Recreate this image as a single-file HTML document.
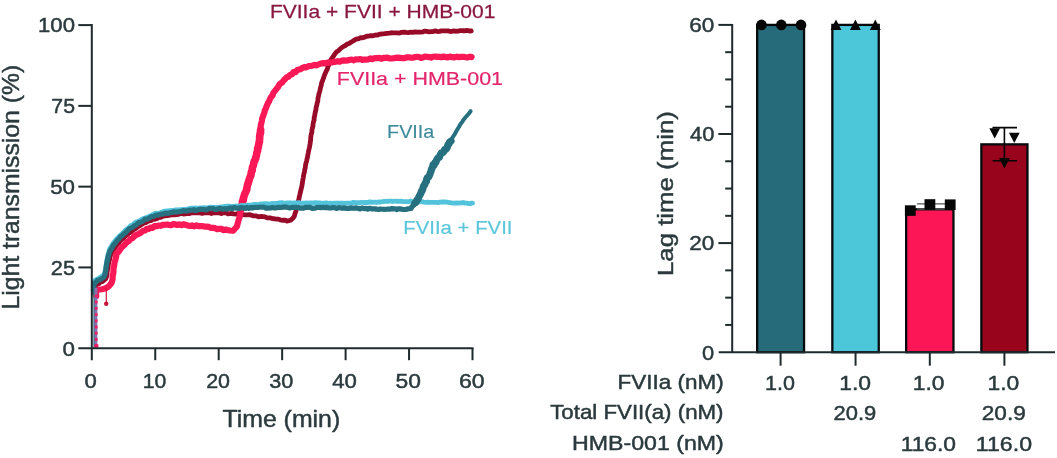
<!DOCTYPE html>
<html><head><meta charset="utf-8"><title>Figure</title>
<style>html,body{margin:0;padding:0;background:#fff;}svg{display:block;}</style></head>
<body>
<svg width="1057" height="458" viewBox="0 0 1057 458" font-family='"Liberation Sans", sans-serif'>
<rect width="1057" height="458" fill="#fff"/>
<defs><filter id="soft" x="0" y="0" width="100%" height="100%" filterUnits="userSpaceOnUse" color-interpolation-filters="sRGB"><feGaussianBlur stdDeviation="0.45"/></filter></defs>
<g filter="url(#soft)">
<g fill="none" stroke-linejoin="round" stroke-linecap="round">
<path d="M94.80,294.00 L94.87,291.71 L94.84,289.42 L94.72,287.51 L95.31,285.73 L96.80,284.22 L98.77,283.73 L100.41,282.01 L102.35,281.65 L105.53,278.90 L106.52,276.73 L107.04,274.39 L107.04,272.48 L107.35,271.19 L107.58,268.75 L108.16,266.17 L108.53,263.74 L108.81,261.53 L109.59,259.34 L110.01,257.20 L110.68,254.90 L111.90,252.68 L112.88,250.42 L114.41,248.58 L115.68,246.27 L117.07,244.39 L118.30,243.28 L119.86,241.19 L121.37,239.80 L123.40,238.06 L125.28,236.13 L127.07,234.80 L128.83,233.16 L130.68,232.27 L132.28,230.68 L133.85,229.49 L135.82,228.61 L137.63,226.78 L139.63,225.86 L141.65,224.44 L143.89,222.97 L146.02,222.57 L148.32,221.05 L150.74,220.74 L152.84,219.48 L155.02,219.18 L157.16,218.43 L158.64,217.44 L160.74,217.38 L162.99,216.21 L164.91,215.86 L167.34,215.69 L170.04,215.06 L171.82,214.91 L173.97,214.76 L176.36,214.60 L178.66,214.26 L181.67,213.45 L183.47,214.06 L185.32,213.97 L187.12,213.46 L189.10,213.59 L191.25,212.92 L193.52,212.92 L195.81,212.73 L197.89,212.75 L200.12,212.91 L202.21,213.37 L204.57,212.62 L206.63,212.81 L208.91,212.60 L211.35,213.48 L213.43,213.00 L215.46,212.65 L217.65,212.86 L219.83,212.79 L221.35,213.62 L223.21,212.85 L225.93,212.78 L228.00,213.78 L229.91,213.56 L231.46,213.33 L233.57,213.87 L235.74,214.03 L237.74,213.64 L240.10,214.60 L242.41,214.64 L244.86,214.84 L247.29,214.92 L249.30,214.66 L251.31,215.18 L253.67,215.89 L256.29,215.95 L258.64,216.80 L260.98,216.49 L262.94,216.66 L265.05,216.93 L267.15,217.90 L269.87,217.86 L272.25,218.54 L274.29,218.75 L276.71,219.20 L278.56,219.20 L280.07,219.79 L282.99,220.27 L285.40,220.24 L286.96,221.05 L290.59,220.27 L292.85,218.15 L294.27,216.49 L295.06,213.33 L295.93,211.27 L296.21,209.08 L296.69,206.20 L297.69,204.15 L297.94,202.77 L298.37,200.98 L299.01,198.50 L299.29,196.64 L299.81,194.84 L300.36,192.40 L300.85,190.41 L301.30,188.23 L301.75,186.83 L302.06,184.88 L302.47,182.46 L302.87,179.84 L303.22,177.86 L303.44,176.32 L303.90,173.83 L304.51,171.78 L304.74,169.64 L305.22,167.88 L305.47,165.47 L305.98,163.00 L306.64,161.04 L307.00,159.12 L307.60,156.64 L307.92,154.56 L308.31,152.63 L308.71,150.38 L309.12,148.75 L309.58,146.68 L310.06,143.89 L310.26,142.45 L310.70,139.56 L310.72,137.82 L311.00,135.61 L311.29,134.05 L311.88,132.31 L311.93,130.17 L312.46,127.64 L312.93,126.32 L313.04,124.25 L313.49,121.76 L314.11,120.10 L314.17,117.67 L314.72,115.50 L315.02,113.31 L315.69,110.72 L316.01,109.17 L316.21,106.97 L316.88,104.96 L317.10,103.19 L317.83,100.92 L318.01,97.97 L318.44,96.30 L318.97,93.57 L319.46,92.39 L320.03,89.96 L320.42,87.95 L321.24,85.33 L321.68,82.51 L322.53,80.90 L322.87,79.61 L323.65,77.80 L324.34,75.41 L325.13,73.64 L326.38,70.74 L327.16,69.58 L327.87,66.76 L328.87,64.68 L329.66,62.40 L330.62,60.35 L331.72,58.61 L333.11,56.69 L334.25,54.88 L335.49,53.16 L336.83,51.68 L338.49,50.75 L339.86,49.23 L341.85,47.48 L343.57,46.48 L345.25,45.62 L347.06,44.11 L349.06,43.46 L350.87,42.24 L353.00,41.06 L354.88,39.86 L356.72,38.83 L358.69,38.75 L360.71,37.59 L362.60,37.76 L364.90,37.12 L366.71,36.24 L368.81,36.02 L370.88,35.60 L373.10,35.74 L375.60,34.98 L377.60,35.07 L379.44,34.21 L381.02,34.01 L382.95,33.92 L384.78,33.72 L387.00,33.28 L389.84,33.20 L391.45,32.71 L393.33,32.80 L395.33,32.97 L397.40,32.97 L399.47,33.07 L401.50,32.39 L403.95,32.09 L406.10,32.46 L408.11,32.54 L410.73,32.22 L412.95,32.30 L414.96,31.92 L417.03,32.16 L419.11,32.09 L421.01,32.09 L423.07,31.83 L424.92,31.11 L426.93,31.39 L428.98,31.82 L431.23,31.56 L433.32,31.57 L435.34,30.85 L437.52,31.56 L439.45,31.31 L441.55,30.80 L443.59,30.95 L445.56,30.93 L448.17,30.83 L450.60,31.57 L452.98,30.95 L455.46,31.23 L458.03,31.13 L460.37,30.57 L462.45,30.73 L464.84,30.76 L466.74,30.45 L468.30,30.69 L470.05,31.10 L471.20,30.90" stroke="#980b28" stroke-width="4.8"/>
<path d="M241.50,207.00 L241.69,205.40 L242.24,204.15 L242.63,203.70 L242.39,201.19 L243.30,200.30 L243.47,197.63 L243.77,197.28 L244.20,195.55 L244.65,194.23 L245.79,191.92 L246.50,190.01 L246.87,189.25 L246.81,188.36 L247.35,185.66 L247.45,185.02 L248.16,183.24 L248.40,181.77 L248.97,180.98 L249.23,179.22 L250.23,176.56 L250.76,175.86 L251.21,173.53 L251.33,172.07 L252.17,170.79 L252.20,168.98 L252.56,166.88 L252.88,166.57 L253.44,165.15 L253.87,162.50 L254.49,160.79 L254.85,160.44 L255.62,158.63 L255.90,157.23 L256.52,155.10 L256.79,152.77 L257.20,151.91 L257.58,150.74 L257.64,148.35 L258.38,147.07 L258.38,146.05 L258.64,144.78 L259.40,142.08 L259.49,140.21 L259.67,138.47 L259.64,136.28 L259.86,135.76 L260.21,133.09 L260.62,132.93 L260.45,130.37 L260.60,130.00" stroke="#fb1856" stroke-width="7.6"/>
<path d="M96.20,296.00 L95.99,293.30 L96.33,291.46 L98.62,289.50 L102.16,289.23 L105.94,288.21 L108.79,286.33 L111.42,283.05 L111.92,281.88 L112.67,278.66 L112.60,276.97 L112.85,275.14 L113.30,273.35 L113.49,270.01 L113.38,268.55 L114.16,265.95 L114.44,262.95 L114.81,261.65 L115.53,259.30 L116.13,256.60 L116.53,254.02 L117.64,252.75 L119.21,250.77 L120.15,249.42 L121.28,247.75 L122.48,246.55 L124.19,245.16 L126.27,242.76 L127.39,241.56 L129.17,240.86 L130.58,238.81 L132.52,238.11 L134.22,236.38 L136.08,234.88 L137.62,234.27 L139.52,233.47 L141.46,232.10 L143.05,230.80 L145.24,230.45 L146.73,228.82 L148.61,228.88 L150.36,227.71 L152.61,227.81 L154.48,226.16 L156.60,226.16 L158.82,225.49 L160.94,225.79 L162.88,224.85 L165.19,224.76 L167.19,224.50 L168.99,225.01 L171.10,225.14 L173.28,224.15 L175.23,224.39 L177.52,225.02 L179.35,224.39 L181.46,225.17 L183.51,224.20 L185.55,224.80 L188.03,225.61 L190.03,225.98 L192.21,225.40 L193.93,226.32 L196.28,225.43 L198.32,226.04 L200.26,226.19 L202.24,226.00 L204.37,226.64 L206.78,226.58 L208.86,226.91 L210.65,227.90 L212.95,227.72 L214.73,228.12 L217.10,229.05 L219.19,228.80 L221.57,228.80 L223.16,230.07 L225.84,229.63 L227.54,230.06 L229.70,230.51 L233.12,230.78 L235.82,227.73 L237.02,226.30 L237.55,224.05 L238.41,220.73 L238.75,219.41 L239.66,217.18 L240.15,214.23 L240.28,212.48 L241.12,210.74 L241.26,207.90 L241.71,206.07 L242.38,203.54 L242.76,202.09 L243.21,200.13 L243.55,197.79 L244.01,195.88 L244.80,194.13 L245.20,193.22 L246.18,189.48 L246.53,188.56 L247.17,187.37 L247.99,185.49 L248.28,182.37 L248.81,180.73 L249.74,178.46 L250.15,176.17 L250.97,174.23 L251.65,172.22 L252.21,169.19 L252.86,167.35 L253.29,165.46 L253.94,163.26 L254.28,161.32 L254.81,160.11 L255.57,157.47 L256.04,156.31 L256.62,153.46 L257.26,152.05 L257.82,149.50 L258.00,148.50 L258.56,146.80 L258.58,143.85 L258.94,141.53 L259.61,139.83 L259.81,137.44 L259.97,135.45 L259.86,133.83 L260.37,131.09 L260.41,129.87 L260.46,127.84 L260.85,124.96 L261.29,123.19 L261.90,120.66 L262.13,118.67 L263.19,116.02 L263.58,114.27 L264.45,112.78 L264.80,110.26 L265.71,108.76 L266.62,106.15 L267.24,104.84 L268.24,102.35 L269.11,101.24 L270.07,98.92 L271.10,96.90 L272.40,95.77 L273.26,93.01 L274.57,91.26 L275.38,90.40 L276.76,88.66 L277.95,87.16 L279.38,84.58 L280.59,83.42 L282.36,82.28 L283.59,80.45 L285.26,78.88 L286.73,77.25 L288.51,76.71 L289.97,74.93 L292.01,74.30 L293.46,72.14 L295.59,72.09 L297.16,69.98 L299.15,69.48 L300.89,68.94 L302.81,67.62 L304.66,67.10 L306.34,67.37 L308.50,66.15 L310.34,65.98 L312.91,65.46 L314.51,64.92 L316.70,65.31 L318.37,64.51 L320.80,63.48 L322.99,63.18 L325.08,63.31 L327.33,62.65 L329.49,62.63 L331.76,62.39 L333.67,61.88 L335.42,61.86 L337.65,61.17 L339.82,61.61 L341.73,60.68 L343.81,60.40 L345.70,60.60 L347.71,60.43 L349.90,59.78 L351.90,59.66 L353.81,60.33 L355.90,59.28 L358.02,59.49 L360.29,59.04 L362.27,59.92 L364.20,59.57 L365.91,59.63 L368.02,59.48 L370.20,58.41 L372.14,59.22 L373.77,58.42 L376.01,58.09 L377.95,58.15 L379.78,57.91 L381.53,58.78 L383.35,57.92 L385.53,57.92 L387.47,57.69 L389.84,58.52 L391.92,58.42 L393.58,58.23 L395.51,57.88 L397.78,57.62 L399.97,57.80 L401.94,58.14 L403.86,58.22 L406.29,57.45 L408.57,57.25 L410.88,57.58 L412.80,57.76 L415.07,57.01 L417.14,56.82 L419.14,57.03 L421.04,57.87 L423.02,57.46 L424.92,56.63 L426.83,56.77 L429.17,57.08 L431.18,57.61 L433.07,56.78 L435.38,56.51 L437.14,56.88 L439.24,56.86 L441.34,57.12 L443.54,56.65 L445.64,56.96 L447.60,57.50 L449.93,56.55 L452.18,57.14 L454.89,57.31 L456.99,56.69 L459.09,57.15 L461.57,56.80 L463.72,56.92 L465.84,57.27 L467.32,57.48 L468.84,57.03 L470.41,56.68 L471.60,57.00" stroke="#fb1856" stroke-width="6.2"/>
<path d="M93.30,290.20 L93.49,288.00 L93.21,285.90 L93.40,283.84 L94.03,281.07 L95.29,279.99 L97.02,279.39 L99.07,278.10 L100.50,277.14 L104.00,274.57 L104.82,272.73 L105.19,269.81 L105.47,268.01 L105.76,266.72 L106.18,264.62 L106.58,261.67 L106.93,259.71 L107.50,257.45 L107.82,255.15 L108.67,252.43 L109.25,250.22 L110.09,247.82 L111.48,246.39 L112.90,243.63 L114.14,241.91 L115.18,240.78 L116.78,238.82 L118.47,237.28 L119.94,235.57 L121.77,233.94 L123.51,232.14 L125.42,230.11 L127.08,228.92 L128.78,227.83 L130.55,225.65 L132.27,225.31 L134.10,223.36 L135.71,222.14 L138.15,221.43 L140.32,220.32 L142.24,219.05 L144.55,218.22 L146.96,217.30 L148.93,216.35 L151.48,215.59 L153.24,214.11 L155.66,213.14 L158.18,213.29 L160.55,212.73 L162.65,211.75 L164.66,211.15 L167.28,210.87 L169.63,210.72 L171.53,210.30 L173.64,210.54 L175.83,209.93 L178.54,209.88 L181.44,209.72 L182.82,209.35 L184.85,209.52 L186.80,209.25 L188.97,208.55 L191.27,208.22 L193.47,208.08 L195.37,207.91 L197.90,208.50 L199.78,207.84 L202.10,208.00 L204.05,207.57 L206.19,207.81 L208.23,207.85 L210.32,207.05 L212.56,207.27 L214.40,207.35 L216.47,207.44 L218.80,207.37 L220.86,206.86 L222.86,206.79 L225.15,206.36 L227.26,206.17 L229.09,206.26 L231.48,206.35 L233.39,206.57 L235.45,205.99 L237.68,206.12 L239.88,205.85 L241.83,205.38 L243.86,205.74 L246.15,205.50 L248.01,205.05 L250.29,205.04 L252.07,204.78 L254.41,204.41 L256.19,204.34 L258.49,204.74 L260.41,203.92 L262.64,203.95 L265.01,203.66 L266.79,203.58 L268.81,204.01 L270.18,204.14 L271.88,203.45 L273.96,203.75 L275.66,203.29 L277.35,203.40 L279.36,202.87 L281.71,202.62 L284.18,203.30 L287.04,202.95 L290.05,202.86 L291.39,202.99 L293.12,203.11 L295.03,202.80 L296.68,203.11 L298.48,202.59 L300.53,203.25 L302.54,203.08 L304.61,203.06 L306.61,202.85 L308.60,203.04 L310.66,202.84 L313.11,203.15 L315.24,202.71 L317.36,202.93 L319.64,202.90 L321.86,203.43 L323.85,203.17 L326.26,202.91 L328.29,203.51 L330.22,203.08 L332.34,203.33 L334.68,203.06 L336.31,203.11 L338.40,203.25 L340.23,203.16 L342.13,203.02 L344.32,203.41 L346.56,203.11 L348.93,203.14 L351.08,203.30 L353.40,202.32 L355.56,202.59 L357.61,202.54 L359.88,202.75 L361.92,202.24 L363.90,202.64 L366.16,202.35 L367.81,202.55 L369.76,201.88 L371.49,202.38 L373.55,202.16 L375.14,202.03 L376.72,202.37 L378.38,201.99 L380.13,202.12 L382.63,201.51 L384.85,201.26 L386.83,201.41 L388.48,201.25 L389.83,201.17 L391.39,201.04 L392.90,201.54 L394.92,201.04 L397.19,201.27 L399.97,201.44 L401.62,201.18 L403.39,201.69 L404.81,201.70 L407.00,201.69 L408.62,201.78 L410.82,201.01 L412.62,201.99 L414.98,201.35 L416.89,201.30 L419.11,201.99 L421.33,201.43 L423.73,202.13 L425.62,202.29 L427.96,202.24 L430.12,202.42 L432.27,202.42 L434.09,202.33 L436.22,202.44 L438.12,202.63 L440.02,202.06 L442.19,202.00 L444.65,201.98 L447.02,202.13 L449.43,202.55 L451.84,202.98 L454.00,203.03 L456.52,202.81 L458.87,203.15 L460.94,202.79 L463.27,202.51 L465.12,203.12 L466.73,203.15 L468.68,203.52 L470.07,203.61 L471.48,203.15 L472.60,203.20" stroke="#52c3da" stroke-width="4.8"/>
<path d="M415.00,203.00 L415.62,202.62 L416.68,200.47 L417.98,199.24 L418.89,196.68 L419.64,195.69 L420.51,193.91 L421.10,192.72 L421.46,191.03 L422.08,190.80 L422.83,188.95 L423.28,186.57 L423.90,185.69 L424.84,184.63 L425.13,183.07 L426.48,181.28 L426.61,179.37 L427.31,177.72 L428.66,177.06 L429.11,176.02 L429.96,174.20 L430.36,172.77 L430.99,171.28 L431.54,169.19 L432.11,168.25 L432.80,166.24 L433.07,164.77 L434.26,164.99 L434.98,162.67 L435.95,162.10 L436.64,159.85 L437.34,158.86 L438.26,157.61 L439.40,157.28 L440.08,155.22 L441.21,153.05 L442.94,152.54 L444.17,150.99 L444.62,149.59 L446.07,149.29 L447.34,147.09 L447.91,144.97 L449.02,143.73 L449.52,142.05 L450.12,142.14 L451.00,141.00" stroke="#27707f" stroke-width="7.2"/>
<path d="M93.60,292.00 L93.43,289.58 L93.74,287.29 L93.81,285.12 L93.98,283.53 L95.77,282.42 L97.61,280.30 L99.32,279.94 L100.98,279.12 L104.08,276.96 L105.13,273.99 L105.37,272.18 L106.03,269.76 L106.03,268.55 L106.25,266.50 L106.79,263.17 L107.15,261.67 L107.66,259.43 L108.04,257.17 L108.72,254.69 L109.46,252.40 L110.43,250.23 L111.90,248.09 L113.13,245.35 L114.08,244.45 L115.68,242.56 L116.95,240.55 L118.93,239.00 L120.31,236.81 L121.96,235.85 L123.77,233.94 L125.74,232.58 L127.65,230.34 L129.01,228.94 L130.95,228.02 L132.88,227.15 L134.24,225.92 L136.35,224.84 L138.41,222.82 L140.71,222.25 L142.81,221.25 L144.83,219.20 L147.16,219.06 L149.26,218.08 L151.82,216.62 L153.75,216.41 L156.10,215.06 L158.22,215.08 L160.94,214.15 L162.70,214.13 L165.25,213.03 L167.52,213.44 L170.18,212.63 L172.01,212.45 L173.88,211.76 L176.03,212.15 L178.59,211.76 L181.55,211.42 L183.14,210.69 L185.41,210.90 L186.97,211.01 L189.40,210.22 L191.47,210.24 L193.65,209.64 L195.65,210.60 L198.27,209.80 L200.31,209.36 L202.53,209.41 L204.69,209.70 L206.71,209.83 L208.52,208.62 L210.58,208.72 L212.60,208.49 L214.91,209.41 L216.94,209.44 L219.24,208.32 L221.17,208.65 L223.02,209.25 L225.05,208.70 L227.02,209.08 L228.73,208.32 L230.29,207.95 L232.25,208.87 L233.73,207.64 L235.79,207.93 L238.42,208.52 L241.06,207.42 L244.14,208.15 L245.56,208.46 L246.85,207.42 L248.84,208.35 L250.51,207.55 L252.26,208.08 L253.86,207.53 L255.83,207.26 L257.89,207.29 L259.77,207.23 L262.01,207.05 L264.11,207.25 L265.88,208.11 L268.10,208.10 L270.57,208.02 L272.39,207.48 L274.55,208.04 L277.10,207.67 L279.11,207.31 L281.48,207.47 L283.58,207.07 L285.56,206.96 L287.96,207.56 L289.83,207.94 L291.79,207.40 L293.68,207.24 L295.97,207.33 L297.65,207.54 L299.75,208.05 L301.69,208.16 L303.73,208.08 L306.10,207.29 L308.09,207.40 L310.08,207.33 L312.24,208.31 L314.64,208.26 L316.31,207.53 L318.78,207.28 L320.78,207.60 L322.98,207.30 L324.95,207.72 L326.66,207.35 L329.01,208.01 L330.68,207.94 L332.99,207.71 L334.75,207.65 L336.44,208.44 L338.54,207.78 L340.04,207.68 L342.05,208.19 L344.25,207.88 L346.73,208.52 L349.12,208.41 L351.09,207.83 L353.57,208.28 L355.76,207.90 L357.95,208.27 L360.08,208.95 L361.98,207.97 L364.20,208.56 L366.17,208.35 L367.77,209.06 L369.74,208.30 L371.58,208.85 L373.19,208.80 L375.13,208.83 L376.65,209.10 L378.60,209.31 L379.91,209.15 L382.73,209.26 L385.14,209.45 L387.94,209.05 L389.91,209.13 L391.94,208.56 L394.00,208.84 L395.35,208.73 L396.98,209.62 L398.37,208.79 L400.10,208.93 L403.28,209.52 L405.66,209.50 L407.40,208.92 L410.98,208.46 L411.86,206.75 L413.60,205.30 L414.44,203.53 L415.62,201.93 L416.90,201.00 L417.86,198.77 L419.22,196.40 L420.17,195.46 L420.79,192.92 L421.81,191.07 L422.43,189.53 L423.53,186.71 L424.15,184.87 L425.19,183.73 L426.35,181.70 L427.33,179.66 L427.91,177.35 L429.22,176.02 L429.80,173.32 L430.80,171.23 L431.53,168.91 L432.32,167.51 L433.07,165.17 L434.57,164.09 L435.64,162.16 L436.74,160.71 L438.06,157.88 L439.37,156.22 L440.60,154.65 L441.96,153.66 L443.52,151.00 L444.98,149.41 L446.59,147.57 L447.46,146.60 L448.40,145.40" stroke="#27707f" stroke-width="5.2"/>
<path d="M446.00,148.50 L448.33,145.37 L449.18,143.79 L449.97,142.11 L451.05,140.44 L452.14,138.28 L453.20,136.47 L454.55,134.52 L455.52,132.72 L456.58,130.78 L457.82,128.72 L459.03,126.76 L460.11,124.72 L461.28,123.11 L462.56,121.37 L463.82,119.31 L465.61,117.26 L467.06,115.54 L468.42,114.16 L469.65,112.50 L470.60,111.20" stroke="#27707f" stroke-width="4"/>
</g>
<path d="M94.6,348 V286" stroke="#27707f" stroke-width="2.4" fill="none"/><path d="M95.9,348 V288" stroke="#8673ad" stroke-width="3" fill="none"/><path d="M96.2,347 V291" stroke="#f01c64" stroke-width="2.8" stroke-dasharray="2.8 3.4" fill="none"/><circle cx="96.4" cy="346" r="2.2" fill="#f01c64"/>
<path d="M106.3,288 V303" stroke="#d4143f" stroke-width="1.2" fill="none"/><circle cx="106.2" cy="303.8" r="2.2" fill="#c9123a"/>
<g stroke="#1f2a2d" stroke-width="2" fill="none" stroke-linecap="butt">
<path d="M91.8,24.1 V360.2"/>
<path d="M78.3,348.2 H473.5"/>
<path d="M78.3,267.43 H91.8"/>
<path d="M78.3,186.65 H91.8"/>
<path d="M78.3,105.88 H91.8"/>
<path d="M78.3,25.10 H91.8"/>
<path d="M155.25,348.2 V360.2"/>
<path d="M218.70,348.2 V360.2"/>
<path d="M282.15,348.2 V360.2"/>
<path d="M345.60,348.2 V360.2"/>
<path d="M409.05,348.2 V360.2"/>
<path d="M472.50,348.2 V360.2"/>
</g>
<text transform="translate(62.51,355.5) scale(1.1432,1)" font-size="19.5" fill="#2b3a3d" stroke="#2b3a3d" stroke-width="0.45">0</text>
<text transform="translate(50.81,274.7) scale(1.1161,1)" font-size="19.5" fill="#2b3a3d" stroke="#2b3a3d" stroke-width="0.45">25</text>
<text transform="translate(50.21,194.0) scale(1.1451,1)" font-size="19.5" fill="#2b3a3d" stroke="#2b3a3d" stroke-width="0.45">50</text>
<text transform="translate(51.34,113.2) scale(1.0910,1)" font-size="19.5" fill="#2b3a3d" stroke="#2b3a3d" stroke-width="0.45">75</text>
<text transform="translate(38.03,32.4) scale(1.1348,1)" font-size="19.5" fill="#2b3a3d" stroke="#2b3a3d" stroke-width="0.45">100</text>
<text transform="translate(84.62,388.2) scale(1.1325,1)" font-size="19.5" fill="#2b3a3d" stroke="#2b3a3d" stroke-width="0.45">0</text>
<text transform="translate(142.70,388.2) scale(1.0878,1)" font-size="19.5" fill="#2b3a3d" stroke="#2b3a3d" stroke-width="0.45">10</text>
<text transform="translate(206.13,388.2) scale(1.1011,1)" font-size="19.5" fill="#2b3a3d" stroke="#2b3a3d" stroke-width="0.45">20</text>
<text transform="translate(269.23,388.2) scale(1.1103,1)" font-size="19.5" fill="#2b3a3d" stroke="#2b3a3d" stroke-width="0.45">30</text>
<text transform="translate(332.16,388.2) scale(1.1380,1)" font-size="19.5" fill="#2b3a3d" stroke="#2b3a3d" stroke-width="0.45">40</text>
<text transform="translate(395.59,388.2) scale(1.1700,1)" font-size="19.5" fill="#2b3a3d" stroke="#2b3a3d" stroke-width="0.45">50</text>
<text transform="translate(458.95,388.2) scale(1.1815,1)" font-size="19.5" fill="#2b3a3d" stroke="#2b3a3d" stroke-width="0.45">60</text>
<text transform="translate(222.40,427.2) scale(1.0814,1)" font-size="23" fill="#2b3a3d" stroke="#2b3a3d" stroke-width="0.45">Time (min)</text>
<text transform="translate(19.4,309.48) rotate(-90) scale(1.0756,1)" font-size="23" fill="#2b3a3d" stroke="#2b3a3d" stroke-width="0.45">Light transmission (%)</text>
<text transform="translate(269.92,18.4) scale(1.1072,1)" font-size="19" fill="#8a1740" stroke="#8a1740" stroke-width="0.25">FVIIa + FVII + HMB-001</text>
<text transform="translate(336.78,84.9) scale(1.1293,1)" font-size="19" fill="#e3256b" stroke="#e3256b" stroke-width="0.2">FVIIa + HMB-001</text>
<text transform="translate(387.12,137.8) scale(1.0412,1)" font-size="19" fill="#3d8a9a" stroke="#3d8a9a" stroke-width="0.15">FVIIa</text>
<text transform="translate(403.27,234) scale(1.0729,1)" font-size="19" fill="#5cc7dc" stroke="#5cc7dc" stroke-width="0.2">FVIIa + FVII</text>
<rect x="757.15" y="24.90" width="46.90" height="327.30" fill="#266b7a" stroke="#060b0d" stroke-width="2.3"/>
<rect x="832.35" y="24.90" width="46.40" height="327.30" fill="#4cc6d9" stroke="#060b0d" stroke-width="2.3"/>
<rect x="906.15" y="209.28" width="47.30" height="142.92" fill="#fc1655" stroke="#060b0d" stroke-width="2.3"/>
<rect x="981.35" y="144.36" width="46.10" height="207.84" fill="#98041b" stroke="#060b0d" stroke-width="2.3"/>
<g stroke="#1f2a2d" stroke-width="2" fill="none">
<path d="M732.2,23.9 V352.2"/>
<path d="M718.7,352.2 H1055"/>
<path d="M725.2,324.93 H732.2"/>
<path d="M725.2,297.65 H732.2"/>
<path d="M725.2,270.38 H732.2"/>
<path d="M718.4000000000001,243.10 H732.2"/>
<path d="M725.2,215.82 H732.2"/>
<path d="M725.2,188.55 H732.2"/>
<path d="M725.2,161.27 H732.2"/>
<path d="M718.4000000000001,134.00 H732.2"/>
<path d="M725.2,106.72 H732.2"/>
<path d="M725.2,79.45 H732.2"/>
<path d="M725.2,52.18 H732.2"/>
<path d="M718.4000000000001,24.90 H732.2"/>
<path d="M780.60,352.2 V365.7"/>
<path d="M855.55,352.2 V365.7"/>
<path d="M929.80,352.2 V365.7"/>
<path d="M1004.40,352.2 V365.7"/>
</g>
<circle cx="761.5" cy="24.9" r="5.3" fill="#060606"/>
<circle cx="781.3" cy="24.9" r="5.3" fill="#060606"/>
<circle cx="801" cy="24.9" r="5.3" fill="#060606"/>
<path d="M761,24.9 H801" stroke="#060606" stroke-width="1.6"/>
<path d="M830.6,30 L841.4,30 L836,19.4 Z" fill="#060606"/>
<path d="M850.0,30 L860.8,30 L855.4,19.4 Z" fill="#060606"/>
<path d="M869.9,30 L880.6999999999999,30 L875.3,19.4 Z" fill="#060606"/>
<path d="M836,25.2 H875" stroke="#060606" stroke-width="1.4"/>
<path d="M917,203.8 H946 M917,209 H946 M930,203.8 V209" stroke="#555" stroke-width="1.3" fill="none"/>
<rect x="904.9" y="205.29999999999998" width="10.8" height="10.6" fill="#060606"/>
<rect x="924.5" y="199.2" width="10.8" height="10.6" fill="#060606"/>
<rect x="944.8000000000001" y="199.39999999999998" width="10.8" height="10.6" fill="#060606"/>
<path d="M1004.4,127.6 V160.8 M992.5,127.6 H1017 M992.5,160.8 H1017" stroke="#060606" stroke-width="1.6" fill="none"/>
<path d="M989.3000000000001,128.2 L1000.1,128.2 L994.7,138.6 Z" fill="#060606"/>
<path d="M1008.9,132.7 L1019.6999999999999,132.7 L1014.3,143.1 Z" fill="#060606"/>
<path d="M999.0,158.0 L1009.8,158.0 L1004.4,168.4 Z" fill="#060606"/>
<text transform="translate(702.02,360.0) scale(1.1218,1)" font-size="19.5" fill="#2b3a3d" stroke="#2b3a3d" stroke-width="0.45">0</text>
<text transform="translate(689.27,250.1) scale(1.1564,1)" font-size="19.5" fill="#2b3a3d" stroke="#2b3a3d" stroke-width="0.45">20</text>
<text transform="translate(689.96,141.0) scale(1.1233,1)" font-size="19.5" fill="#2b3a3d" stroke="#2b3a3d" stroke-width="0.45">40</text>
<text transform="translate(689.27,31.9) scale(1.1564,1)" font-size="19.5" fill="#2b3a3d" stroke="#2b3a3d" stroke-width="0.45">60</text>
<text transform="translate(672.6,276.06) rotate(-90) scale(1.1221,1)" font-size="23" fill="#2b3a3d" stroke="#2b3a3d" stroke-width="0.45">Lag time (min)</text>
<text transform="translate(617.50,389.4) scale(1.1533,1)" font-size="19.5" fill="#2b3a3d" stroke="#2b3a3d" stroke-width="0.45">FVIIa (nM)</text>
<text transform="translate(550.15,419.3) scale(1.1435,1)" font-size="19.5" fill="#2b3a3d" stroke="#2b3a3d" stroke-width="0.45">Total FVII(a) (nM)</text>
<text transform="translate(571.95,450.3) scale(1.1880,1)" font-size="19.5" fill="#2b3a3d" stroke="#2b3a3d" stroke-width="0.45">HMB-001 (nM)</text>
<text transform="translate(764.98,389.5) scale(1.1024,1)" font-size="19.5" fill="#2b3a3d" stroke="#2b3a3d" stroke-width="0.45">1.0</text>
<text transform="translate(839.27,389.5) scale(1.1750,1)" font-size="19.5" fill="#2b3a3d" stroke="#2b3a3d" stroke-width="0.45">1.0</text>
<text transform="translate(912.77,389.5) scale(1.1710,1)" font-size="19.5" fill="#2b3a3d" stroke="#2b3a3d" stroke-width="0.45">1.0</text>
<text transform="translate(987.47,389.5) scale(1.1710,1)" font-size="19.5" fill="#2b3a3d" stroke="#2b3a3d" stroke-width="0.45">1.0</text>
<text transform="translate(833.60,419.7) scale(1.1254,1)" font-size="19.5" fill="#2b3a3d" stroke="#2b3a3d" stroke-width="0.45">20.9</text>
<text transform="translate(981.77,419.7) scale(1.1615,1)" font-size="19.5" fill="#2b3a3d" stroke="#2b3a3d" stroke-width="0.45">20.9</text>
<text transform="translate(900.67,450.5) scale(1.1699,1)" font-size="19.5" fill="#2b3a3d" stroke="#2b3a3d" stroke-width="0.45">116.0</text>
<text transform="translate(975.85,450.5) scale(1.1877,1)" font-size="19.5" fill="#2b3a3d" stroke="#2b3a3d" stroke-width="0.45">116.0</text>
</g>
</svg>
</body></html>
